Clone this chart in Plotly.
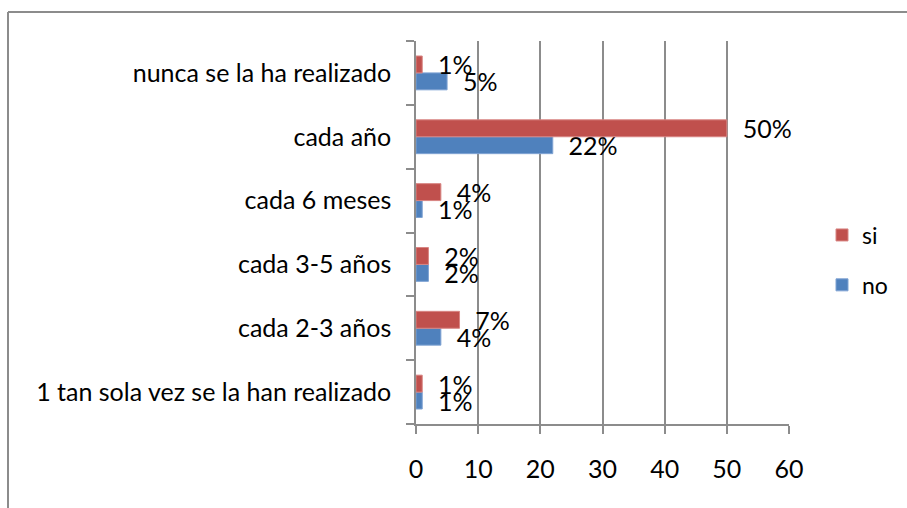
import plotly.graph_objects as go

categories = ["1 tan sola vez se la han realizado", "cada 2-3 años", "cada 3-5 años",
              "cada 6 meses", "cada año", "nunca se la ha realizado"]
si_values = [1, 7, 2, 4, 50, 1]
no_values = [1, 4, 2, 1, 22, 5]
x_ticks = [0, 10, 20, 30, 40, 50, 60]

FONT = "Lato"
FS = 25
RED = "#C0504D"
BLUE = "#4F81BD"
GRID = "#8C8C8C"

def labels(vals):
    return ["\u00a0\u00a0" + f"{v}%" for v in vals]

fig = go.Figure()
fig.add_trace(go.Bar(
    y=categories, x=no_values, name="no", orientation="h",
    marker=dict(color=BLUE, line=dict(color="#7FA3D3", width=1)),
    text=labels(no_values), textposition="outside", cliponaxis=False,
    constraintext="none", textfont=dict(family=FONT, size=FS, color="black"),
    legendgroup="no", legendrank=2,
))
fig.add_trace(go.Bar(
    y=categories, x=si_values, name="si", orientation="h",
    marker=dict(color=RED, line=dict(color="#D88583", width=1)),
    text=labels(si_values), textposition="outside", cliponaxis=False,
    constraintext="none", textfont=dict(family=FONT, size=FS, color="black"),
    legendgroup="si", legendrank=1,
))

L, R, T, B = 416, 907 - 789, 41, 508 - 424
pw, ph = 907 - L - R, 508 - T - B

def px(x):
    return (x - L) / pw

def py(y):
    return (508 - B - y) / ph

fig.update_layout(
    width=907, height=508,
    margin=dict(l=L, r=R, t=T, b=B, pad=0, autoexpand=False),
    paper_bgcolor="white", plot_bgcolor="white",
    barmode="group", bargap=0.47, bargroupgap=0,
    font=dict(family=FONT, size=FS, color="black"),
    showlegend=True,
    legend=dict(
        x=px(893), y=py(260), xanchor="right", yanchor="middle",
        traceorder="grouped", tracegroupgap=17,
        font=dict(family=FONT, size=23, color="black"),
        bgcolor="rgba(0,0,0,0)", itemwidth=30,
    ),
    xaxis=dict(
        range=[0, 60], tickvals=x_ticks, ticktext=[str(t) for t in x_ticks],
        showgrid=True, gridcolor=GRID, gridwidth=1.5,
        showline=True, linecolor=GRID, linewidth=1.5,
        ticks="outside", ticklen=8, tickcolor=GRID, tickwidth=1.5,
        ticklabelstandoff=14, zeroline=False, fixedrange=True,
    ),
    yaxis=dict(
        type="category", categoryorder="array", categoryarray=categories,
        showgrid=False, showline=True, linecolor=GRID, linewidth=1.5,
        ticks="outside", ticklen=8, tickcolor=GRID, tickwidth=1.5,
        tickson="boundaries", ticklabelstandoff=18, fixedrange=True,
    ),
    shapes=[
        dict(type="line", xref="paper", yref="paper",
             x0=px(8), x1=px(907), y0=py(12), y1=py(12),
             line=dict(color="#8C8C8C", width=2)),
        dict(type="line", xref="paper", yref="paper",
             x0=px(8), x1=px(8), y0=py(12), y1=py(508),
             line=dict(color="#8C8C8C", width=2)),
    ],
)

fig.write_html("out.html", config={"displayModeBar": False},
               post_script="document.body.style.margin='0px';document.body.style.overflow='hidden';")
